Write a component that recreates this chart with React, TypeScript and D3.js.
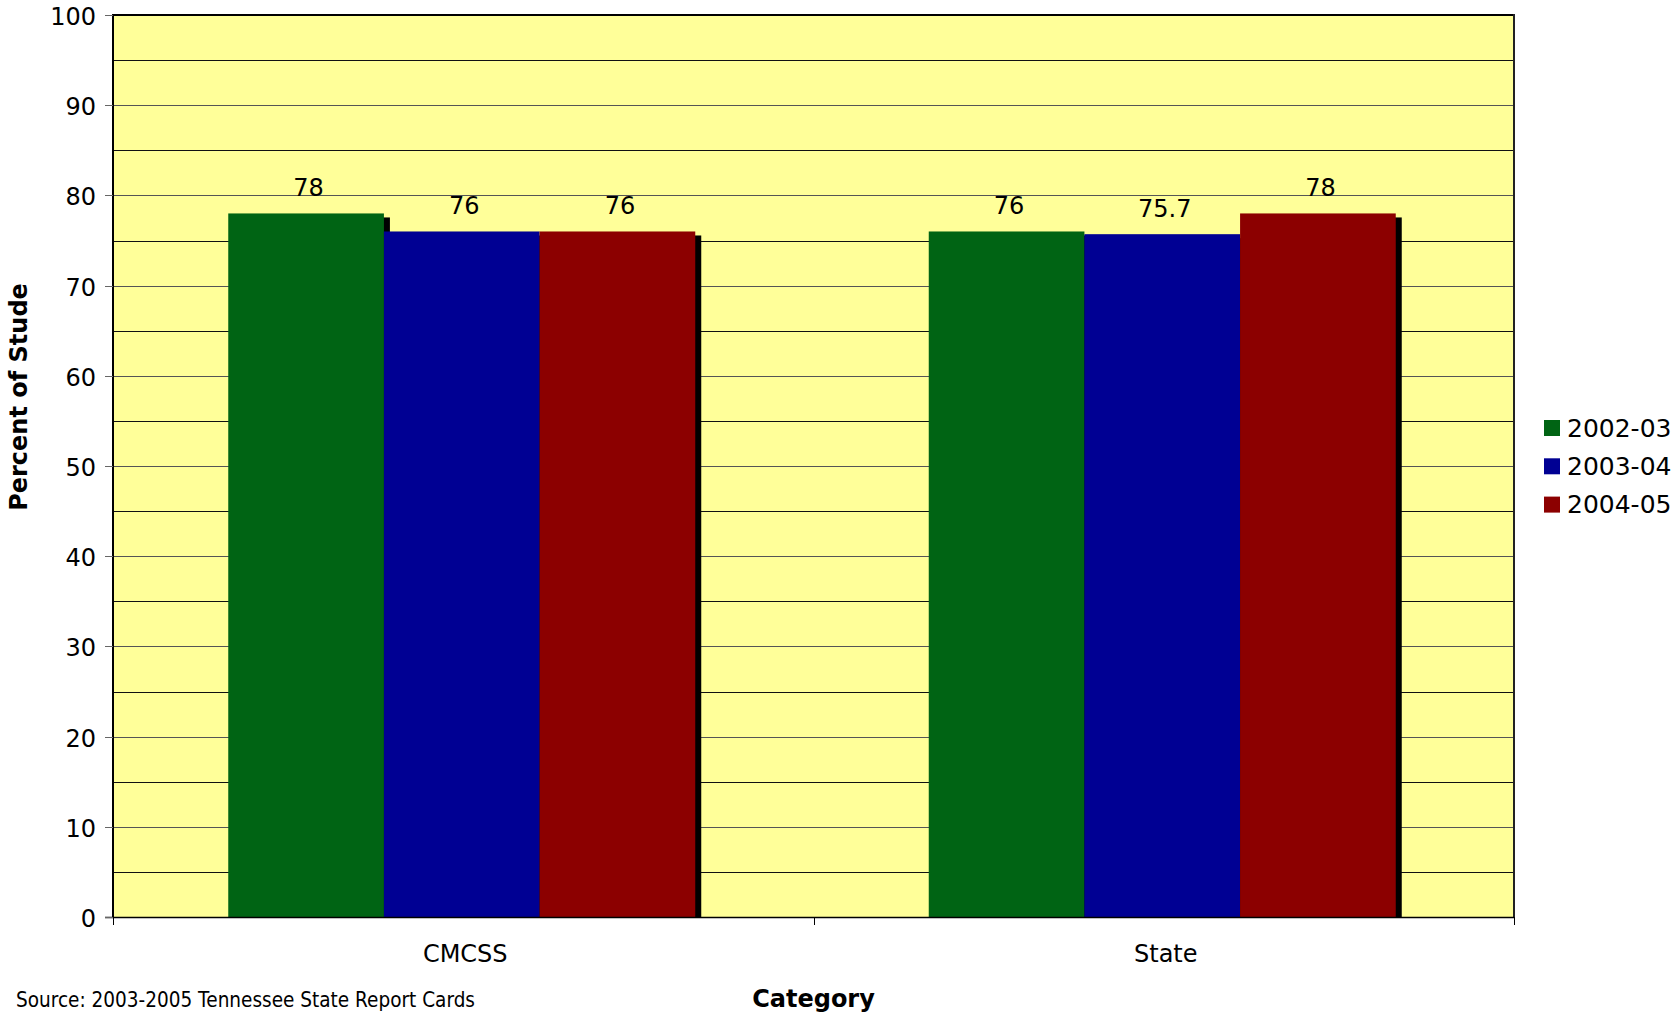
import React from "react";
import * as d3 from "d3";

// Percent of students, by category and school year
const categories = ["CMCSS", "State"];
const seriesNames = ["2002-03", "2003-04", "2004-05"];
const valuesCMCSS = [78, 76, 76];
const valuesState = [76, 75.7, 78];
const seriesValues = [valuesCMCSS, valuesState];
const seriesColors = ["#006414", "#000093", "#8c0000"];
const yTicks = [0, 10, 20, 30, 40, 50, 60, 70, 80, 90, 100];
const minorLines = [5, 15, 25, 35, 45, 55, 65, 75, 85, 95];

const W = 1676;
const H = 1013;
const plot = { left: 113, top: 15, right: 1514, bottom: 917 };
const FONT = "'DejaVu Sans', Verdana, sans-serif";

export default function App() {
  const y = d3.scaleLinear().domain([0, 100]).range([plot.bottom, plot.top]);
  const x0 = d3
    .scaleBand<string>()
    .domain(categories)
    .range([plot.left, plot.right])
    .paddingInner(0)
    .paddingOuter(0);
  const x1 = d3
    .scaleBand<string>()
    .domain(seriesNames)
    .range([0, x0.bandwidth()])
    .paddingInner(0)
    .paddingOuter(0.75);

  const shadowDx = 6;
  const shadowDy = 4;

  return (
    <svg
      width={W}
      height={H}
      style={{ position: "absolute", left: 0, top: 0, background: "#fff" }}
      fontFamily={FONT}
    >
      <defs>
        <clipPath id="plotClip">
          <rect
            x={plot.left}
            y={plot.top}
            width={plot.right - plot.left}
            height={plot.bottom - plot.top}
          />
        </clipPath>
      </defs>
      <rect
        x={plot.left}
        y={plot.top}
        width={plot.right - plot.left}
        height={plot.bottom - plot.top}
        fill="#FFFF99"
      />
      {/* gridlines */}
      {minorLines.map((v) => (
        <line
          key={"m" + v}
          x1={plot.left}
          x2={plot.right}
          y1={Math.round(y(v)) + 0.5}
          y2={Math.round(y(v)) + 0.5}
          stroke="#111"
          strokeWidth={1}
        />
      ))}
      {yTicks
        .filter((v) => v > 0 && v < 100)
        .map((v) => (
          <line
            key={"g" + v}
            x1={plot.left}
            x2={plot.right}
            y1={Math.round(y(v)) + 0.5}
            y2={Math.round(y(v)) + 0.5}
            stroke="#555"
            strokeWidth={1}
          />
        ))}
      {/* bars with drop shadows */}
      <g clipPath="url(#plotClip)">
        {categories.map((c, ci) =>
          seriesNames.map((s, si) => {
            const v = seriesValues[ci][si];
            const bx = (x0(c) as number) + (x1(s) as number) - 1.5;
            const bw = x1.bandwidth();
            return (
              <g key={c + s}>
                <rect
                  x={bx + shadowDx}
                  y={y(v) + shadowDy}
                  width={bw}
                  height={plot.bottom - y(v)}
                  fill="#000"
                />
                <rect
                  x={bx}
                  y={y(v)}
                  width={bw}
                  height={plot.bottom - y(v)}
                  fill={seriesColors[si]}
                />
              </g>
            );
          })
        )}
      </g>
      {/* value labels */}
      {categories.map((c, ci) =>
        seriesNames.map((s, si) => {
          const v = seriesValues[ci][si];
          const cx = (x0(c) as number) + (x1(s) as number) + x1.bandwidth() / 2 + 1;
          return (
            <text
              key={"l" + c + s}
              x={cx}
              y={y(v) - 17.5}
              textAnchor="middle"
              fontSize={24}
              fill="#000"
            >
              {String(v)}
            </text>
          );
        })
      )}
      {/* plot frame */}
      <line x1={plot.left} x2={plot.right + 1} y1={plot.top} y2={plot.top} stroke="#000" strokeWidth={2} />
      <line x1={plot.left} x2={plot.left} y1={plot.top - 1} y2={plot.bottom} stroke="#000" strokeWidth={2} />
      <line x1={plot.right} x2={plot.right} y1={plot.top - 1} y2={plot.bottom} stroke="#222" strokeWidth={2} />
      <line x1={plot.left - 8} x2={plot.right} y1={plot.bottom + 0.5} y2={plot.bottom + 0.5} stroke="#000" strokeWidth={1.5} />
      {/* y axis ticks and labels */}
      {yTicks.map((v) => (
        <g key={"t" + v}>
          <line
            x1={plot.left - 8}
            x2={plot.left}
            y1={Math.round(y(v)) + 0.5}
            y2={Math.round(y(v)) + 0.5}
            stroke="#666"
            strokeWidth={1}
          />
          <text x={96} y={y(v) + 10} textAnchor="end" fontSize={24} fill="#000">
            {v}
          </text>
        </g>
      ))}
      {/* x axis ticks */}
      {[plot.left, (plot.left + plot.right) / 2, plot.right].map((tx, i) => (
        <line
          key={"xt" + i}
          x1={Math.round(tx) + 0.5}
          x2={Math.round(tx) + 0.5}
          y1={plot.bottom}
          y2={plot.bottom + 8}
          stroke="#000"
          strokeWidth={1}
        />
      ))}
      {categories.map((c) => (
        <text
          key={"c" + c}
          x={(x0(c) as number) + x0.bandwidth() / 2 + 2}
          y={962}
          textAnchor="middle"
          fontSize={24}
          fill="#000"
        >
          {c}
        </text>
      ))}
      {/* axis titles */}
      <text
        x={(plot.left + plot.right) / 2}
        y={1007}
        textAnchor="middle"
        fontSize={24}
        fontWeight="bold"
        fill="#000"
      >
        Category
      </text>
      <text
        transform={`translate(27, 397) rotate(-90)`}
        textAnchor="middle"
        fontSize={24}
        fontWeight="bold"
        fill="#000"
      >
        Percent of Stude
      </text>
      <text x={16} y={1007} fontSize={21} textLength={459} lengthAdjust="spacingAndGlyphs" fill="#000">
        Source: 2003-2005 Tennessee State Report Cards
      </text>
      {/* legend */}
      {seriesNames.map((s, i) => {
        const cy = 428 + i * 38.3;
        return (
          <g key={"lg" + s}>
            <rect x={1544} y={cy - 8} width={16} height={16} fill={seriesColors[i]} />
            <text x={1567} y={cy + 8.5} fontSize={25} fill="#000">
              {s}
            </text>
          </g>
        );
      })}
    </svg>
  );
}
